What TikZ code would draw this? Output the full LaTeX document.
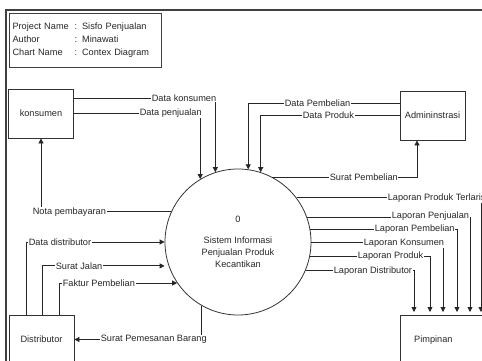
\documentclass[tikz,border=0pt]{standalone}
\usepackage{fontspec}
\setmainfont{Liberation Sans}
\usetikzlibrary{arrows.meta, calc}
\tikzset{>={Triangle[length=5pt,width=5pt]}}

\begin{document}
\begin{tikzpicture}[x=1pt, y=-1pt,
        every node/.style={font=\fontsize{9.2}{11}\selectfont, text=black!85},
        entity/.style={draw=black!80, line width=0.8pt, minimum width=65pt, minimum height=49pt, inner sep=2pt},
        process/.style={draw=black!80, line width=0.8pt, circle, minimum size=146pt, inner sep=0pt, align=center, font=\fontsize{9.2}{12}\selectfont},
        flow/.style={draw=black!85, line width=0.8pt},
        lbl/.style={fill=white, inner sep=0.6pt, anchor=west}]

            \useasboundingbox (0,0) rectangle (482,361);
            \clip (0,0) rectangle (482,361);

            \draw[line width=1.2pt, black!75] (482,10) -- (6,10) -- (6,361);

            \node[draw=black!75, line width=1.1pt, anchor=north west, text width=146pt, inner xsep=3pt,
                minimum height=54pt, align=left, font=\fontsize{9.2}{13}\selectfont] (info) at (9,13)
                {\makebox[62pt][l]{Project Name}:\hspace{5pt}Sisfo Penjualan\\
                 \makebox[62pt][l]{Author}:\hspace{5pt}Minawati\\
                 \makebox[62pt][l]{Chart Name}:\hspace{5pt}Contex Diagram};

            \node[entity] (konsumen) at (41,113.5) {konsumen};
            \node[entity] (admin) at (432.5,115.5) {Admininstrasi};
            \node[entity] (distributor) at (41.5,339.5) {Distributor};
            \node[entity, anchor=north west, text width=86pt, inner xsep=7pt, align=left] (pimpinan) at (400,315)
                {\makebox[52pt]{Pimpinan}};

            \node[process] (sys) at (238,242) {0\\[9pt]Sistem Informasi\\Penjualan Produk\\Kecantikan};

            \draw[flow,->] ([yshift=15.5pt]konsumen.east) -| (sys.108.4);
            \draw[flow,->] (konsumen.east) -| (sys.121.4);
            \draw[flow,->] ([yshift=12.5pt]admin.west) -| (sys.82.1);
            \draw[flow,->] (admin.west) -| (sys.72.5);
            \draw[flow,->] (sys.62.9) -| ([xshift=-15.5pt]admin.south);

            \draw[flow,->] (sys.37.1) -| ([xshift=81pt,yshift=3pt]pimpinan.north west);
            \draw[flow,->] (sys.20.9) -| ([xshift=70pt,yshift=3pt]pimpinan.north west);
            \draw[flow,->] (sys.10.3) -| ([xshift=57pt,yshift=3pt]pimpinan.north west);
            \draw[flow,->] (sys.-0.8) -| ([xshift=43pt,yshift=3pt]pimpinan.north west);
            \draw[flow,->] (sys.-11.1) -| ([xshift=30pt,yshift=3pt]pimpinan.north west);
            \draw[flow,->] (sys.-23.4) -| ([xshift=14pt,yshift=3pt]pimpinan.north west);

            \draw[flow,->] (sys.155.7) -| (konsumen.south);
            \draw[flow,->] ([xshift=-15.5pt]distributor.north) |- (sys.west);
            \draw[flow,->] ([xshift=0.5pt]distributor.north) |- ([xshift=-4pt]sys.199.2);
            \draw[flow,->] ([xshift=17.5pt]distributor.north) |- (sys.214.2);
            \draw[flow,->] (sys.240.5) |- (distributor.east);

            \node[lbl] at (151,98) {Data konsumen};
            \node[lbl] at (139,113.5) {Data penjualan};
            \node[lbl] at (284,103) {Data Pembelian};
            \node[lbl] at (302,115.5) {Data Produk};
            \node[lbl] at (329,177) {Surat Pembelian};

            \node[lbl] at (387,198) {Laporan Produk Terlaris};
            \node[lbl] at (391,216) {Laporan Penjualan};
            \node[lbl] at (374,229) {Laporan Pembelian};
            \node[lbl] at (363,243) {Laporan Konsumen};
            \node[lbl] at (357,256) {Laporan Produk};
            \node[lbl] at (333,271) {Laporan Distributor};

            \node[lbl] at (32,212) {Nota pembayaran};
            \node[lbl] at (28,242) {Data distributor};
            \node[lbl] at (55,266) {Surat Jalan};
            \node[lbl] at (62,283) {Faktur Pembelian};
            \node[lbl] at (100,339.5) {Surat Pemesanan Barang};

        \end{tikzpicture}
\end{document}
